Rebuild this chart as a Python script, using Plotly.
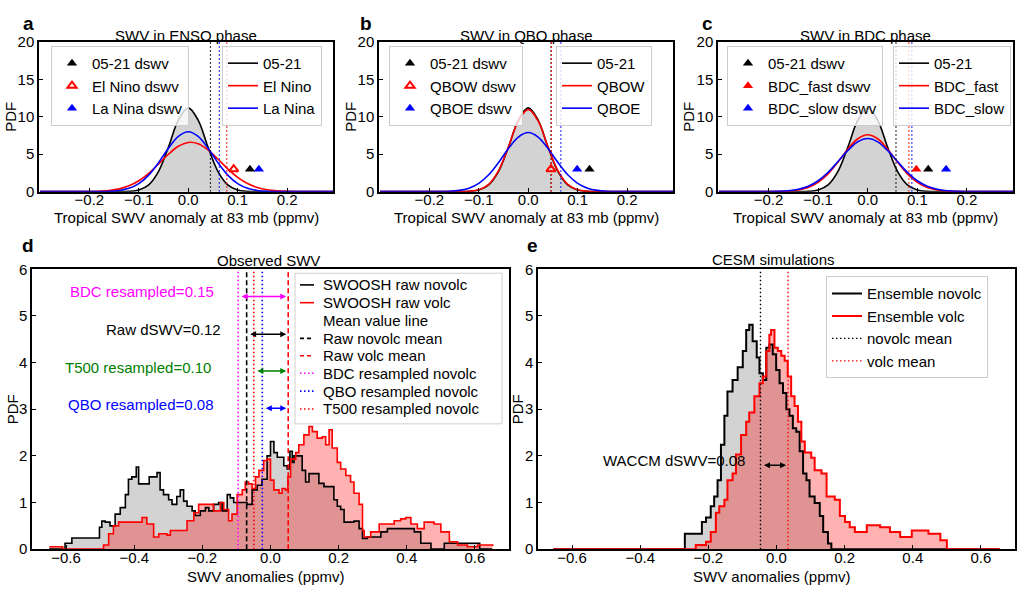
import plotly.graph_objects as go

W, H = 1020, 596
FONT = "Liberation Sans, Arial, Helvetica, sans-serif"


def PX(x):
    return x / W


def PY(y):
    return 1 - y / H


# ---------------- data: panels a-c (fitted PDFs) ----------------
pdf_x = [-0.30, -0.28, -0.26, -0.24, -0.22, -0.20, -0.18, -0.16, -0.14, -0.12, -0.10,
         -0.08, -0.06, -0.04, -0.02, 0.00, 0.02, 0.04, 0.06, 0.08, 0.10, 0.12, 0.14,
         0.16, 0.18, 0.20, 0.22, 0.24, 0.26, 0.28, 0.30]
pdf_0521 = [0, 0, 0, 0, 0, 0, 0, 0, 0.005, 0.038, 0.217, 0.90, 2.71, 5.96, 9.57, 11.2,
            9.57, 5.96, 2.71, 0.90, 0.217, 0.038, 0.005, 0, 0, 0, 0, 0, 0, 0, 0]
pdf_elnino = [0, 0, 0, 0.001, 0.006, 0.021, 0.061, 0.158, 0.370, 0.775, 1.457, 2.45, 3.70,
              5.00, 6.06, 6.58, 6.40, 5.58, 4.36, 3.05, 1.92, 1.08, 0.54, 0.245, 0.099,
              0.036, 0.012, 0.003, 0.001, 0, 0]
pdf_lanina = [0, 0, 0, 0, 0, 0.002, 0.012, 0.047, 0.156, 0.444, 1.07, 2.21, 3.88, 5.80, 7.38,
              8.0, 7.38, 5.80, 3.88, 2.21, 1.07, 0.444, 0.156, 0.047, 0.012, 0.002, 0, 0, 0, 0, 0]
pdf_qbow = [0, 0, 0, 0, 0, 0, 0, 0, 0.006, 0.047, 0.247, 0.97, 2.81, 5.99, 9.45, 11.0,
            9.45, 5.99, 2.81, 0.97, 0.247, 0.047, 0.006, 0, 0, 0, 0, 0, 0, 0, 0]
pdf_qboe = [0, 0, 0, 0, 0, 0.003, 0.014, 0.052, 0.169, 0.469, 1.11, 2.25, 3.90, 5.77, 7.30,
            7.9, 7.30, 5.77, 3.90, 2.25, 1.11, 0.469, 0.169, 0.052, 0.014, 0.003, 0, 0, 0, 0, 0]
pdf_bdcfast = [0, 0, 0, 0, 0.001, 0.005, 0.021, 0.073, 0.217, 0.558, 1.24, 2.38, 3.96, 5.69,
               7.07, 7.6, 7.07, 5.69, 3.96, 2.38, 1.24, 0.558, 0.217, 0.073, 0.021, 0.005,
               0.001, 0, 0, 0, 0]
pdf_bdcslow = [0, 0, 0, 0.001, 0.003, 0.013, 0.042, 0.123, 0.319, 0.726, 1.46, 2.58, 4.02,
               5.51, 6.66, 7.1, 6.66, 5.51, 4.02, 2.58, 1.46, 0.726, 0.319, 0.123, 0.042,
               0.013, 0.003, 0.001, 0, 0, 0]

# mean lines (dotted) and dswv markers: order = [05-21, phase1, phase2]
enso_means = [0.045, 0.078, 0.063]
enso_dswv = [0.125, 0.092, 0.143]
qbo_means = [0.046, 0.047, 0.066]
qbo_dswv = [0.124, 0.046, 0.099]
bdc_means = [0.057, 0.083, 0.089]
bdc_dswv = [0.122, 0.098, 0.158]
dswv_level = 3.0

# ---------------- data: panel d (observed SWV, step PDFs) ----------------
obs_novolc_x = [-0.650, -0.603, -0.583, -0.502, -0.495, -0.485, -0.471, -0.456, -0.441, -0.426,
                -0.417, -0.407, -0.394, -0.387, -0.356, -0.333, -0.324, -0.314, -0.299, -0.289,
                -0.275, -0.265, -0.255, -0.245, -0.230, -0.221, -0.206, -0.191, -0.181, -0.167,
                -0.152, -0.142, -0.127, -0.118, -0.108, -0.069, -0.054, -0.039, -0.025, -0.010,
                0.000, 0.010, 0.020, 0.039, 0.049, 0.057, 0.064, 0.069, 0.093, 0.103,
                0.113, 0.142, 0.157, 0.186, 0.196, 0.206, 0.216, 0.245, 0.260, 0.270,
                0.284, 0.324, 0.343, 0.422, 0.441, 0.471, 0.510, 0.614, 0.650]
obs_novolc_y = [0, 0.125, 0.24, 0.47, 0.60, 0.58, 0.50, 0.75, 0.89, 1.17,
                1.50, 1.55, 1.76, 1.40, 1.55, 1.64, 1.27, 1.17, 1.06, 0.96,
                1.13, 1.27, 1.03, 0.92, 0.82, 0.72, 0.82, 0.89, 0.82, 0.96,
                1.00, 0.82, 1.17, 1.10, 1.00, 0.96, 1.27, 1.37, 1.50, 2.00,
                2.31, 2.07, 1.97, 1.79, 1.72, 2.10, 1.86, 2.00, 1.69, 1.44,
                1.62, 1.41, 1.34, 1.06, 0.92, 0.85, 0.58, 0.60, 0.44, 0.23,
                0.26, 0.37, 0.44, 0.37, 0.125, 0.0, 0.125, 0.0, 0.0]
obs_volc_x = [-0.649, -0.610, -0.490, -0.475, -0.461, -0.446, -0.377, -0.363, -0.343, -0.328,
              -0.304, -0.294, -0.245, -0.225, -0.211, -0.167, -0.147, -0.137, -0.123, -0.113,
              -0.098, -0.083, -0.074, -0.064, -0.054, -0.044, -0.034, -0.020, -0.010, 0.000,
              0.010, 0.025, 0.034, 0.044, 0.051, 0.059, 0.074, 0.083, 0.098, 0.113,
              0.123, 0.137, 0.152, 0.162, 0.172, 0.181, 0.196, 0.206, 0.221, 0.235,
              0.245, 0.260, 0.270, 0.275, 0.294, 0.319, 0.363, 0.382, 0.397, 0.412,
              0.431, 0.451, 0.480, 0.500, 0.525, 0.549, 0.578, 0.608, 0.652]
obs_volc_y = [0.05, 0.0, 0.09, 0.33, 0.50, 0.58, 0.68, 0.54, 0.26, 0.33,
              0.30, 0.40, 0.61, 0.78, 0.96, 0.82, 1.00, 0.85, 0.61, 0.75,
              1.17, 1.27, 1.44, 1.40, 1.30, 1.55, 1.69, 1.90, 1.93, 1.48,
              1.27, 1.20, 1.30, 1.27, 1.55, 1.93, 2.07, 2.24, 2.45, 2.63,
              2.52, 2.38, 2.41, 2.24, 2.56, 2.17, 1.86, 1.72, 1.58, 1.44,
              1.20, 0.96, 0.40, 0.26, 0.37, 0.54, 0.61, 0.65, 0.68, 0.54,
              0.44, 0.58, 0.54, 0.37, 0.16, 0.09, 0.05, 0.09, 0.07]
# mean lines: raw novolc, raw volc, BDC resampled, QBO resampled, T500 resampled
obs_means = [-0.070, 0.052, -0.095, -0.024, -0.049]
obs_labels = ["BDC resampled=0.15", "Raw dSWV=0.12", "T500 resampled=0.10", "QBO resampled=0.08"]
obs_label_y = [5.52, 4.70, 3.90, 3.10]
obs_label_right = [-0.159, -0.138, -0.168, -0.159]
obs_arrow_y = [5.42, 4.61, 3.82, 3.02]

# ---------------- data: panel e (CESM simulations) ----------------
cesm_novolc_x = [-0.655, -0.269, -0.219, -0.207, -0.193, -0.183, -0.173, -0.163, -0.153, -0.144,
                 -0.129, -0.114, -0.099, -0.089, -0.080, -0.070, -0.058, -0.050, -0.040, -0.030,
                 -0.021, -0.011, -0.001, 0.009, 0.019, 0.029, 0.038, 0.048, 0.058, 0.068,
                 0.078, 0.088, 0.097, 0.112, 0.127, 0.137, 0.151, 0.161, 0.655]
cesm_novolc_y = [0, 0.33, 0.58, 0.68, 0.92, 1.13, 1.48, 2.24, 2.86, 3.38,
                 3.63, 3.90, 4.25, 4.70, 4.81, 4.46, 4.11, 3.77, 3.63, 4.32,
                 4.39, 4.18, 3.84, 3.56, 3.35, 3.00, 2.86, 2.59, 2.52, 2.10,
                 1.62, 1.48, 1.13, 0.99, 0.71, 0.37, 0.12, 0, 0]
cesm_volc_x = [-0.655, -0.237, -0.207, -0.193, -0.178, -0.168, -0.153, -0.144, -0.129, -0.119,
               -0.104, -0.089, -0.080, -0.065, -0.050, -0.040, -0.030, -0.021, -0.016, -0.006,
               0.004, 0.014, 0.024, 0.033, 0.043, 0.053, 0.063, 0.073, 0.083, 0.102,
               0.112, 0.132, 0.147, 0.171, 0.186, 0.201, 0.215, 0.230, 0.265, 0.304,
               0.333, 0.363, 0.397, 0.446, 0.481, 0.500, 0.655]
cesm_volc_y = [0, 0.09, 0.16, 0.37, 0.78, 0.92, 1.06, 1.48, 1.62, 2.03,
               2.45, 2.73, 2.93, 3.28, 3.56, 3.70, 4.25, 4.60, 4.70, 4.32,
               4.25, 4.15, 4.04, 3.70, 3.28, 3.07, 2.73, 2.31, 2.07, 1.96,
               1.69, 1.62, 1.13, 1.06, 0.71, 0.58, 0.47, 0.37, 0.51, 0.47,
               0.37, 0.26, 0.40, 0.33, 0.19, 0, 0]
cesm_means = [-0.047, 0.034]
cesm_arrow_y = 1.80
cesm_label = "WACCM dSWV=0.08"

# ---------------- styles ----------------
GRAY = "rgb(211,211,211)"
PINK = "rgba(255,0,0,0.3)"
RED = "#ff0000"
BLUE = "#0000ff"
MAGENTA = "#ff00ff"
GREEN = "#008000"
DASH = "5px,3px"
DOT = "1.5px,2.5px"

fig = go.Figure()

# ---------- panels a-c ----------
panels_top = [
    dict(ax="", legL="legend", legR="legend2", curves=[("05-21", pdf_0521, "black"),
                                                     ("El Nino", pdf_elnino, RED),
                                                     ("La Nina", pdf_lanina, BLUE)],
         means=enso_means, dswv=enso_dswv, open1=True),
    dict(ax="2", legL="legend3", legR="legend4", curves=[("05-21", pdf_0521, "black"),
                                                       ("QBOW", pdf_qbow, RED),
                                                       ("QBOE", pdf_qboe, BLUE)],
         means=qbo_means, dswv=qbo_dswv, open1=True),
    dict(ax="3", legL="legend5", legR="legend6", curves=[("05-21", pdf_0521, "black"),
                                                       ("BDC_fast", pdf_bdcfast, RED),
                                                       ("BDC_slow", pdf_bdcslow, BLUE)],
         means=bdc_means, dswv=bdc_dswv, open1=False),
]

for p in panels_top:
    xa, ya = "x" + p["ax"], "y" + p["ax"]
    # gray fill under 05-21 curve
    fig.add_trace(go.Scatter(x=pdf_x, y=pdf_0521, mode="lines", fill="tozeroy",
                             fillcolor=GRAY, line=dict(width=0, shape="spline"),
                             xaxis=xa, yaxis=ya, showlegend=False, hoverinfo="skip"))
    for name, vals, col in p["curves"]:
        fig.add_trace(go.Scatter(x=pdf_x, y=vals, mode="lines", name=name,
                                 line=dict(color=col, width=1.6, shape="spline"),
                                 xaxis=xa, yaxis=ya, legend=p["legR"]))
    for (name, _, col), m in zip(p["curves"], p["means"]):
        fig.add_trace(go.Scatter(x=[m, m], y=[0, 20], mode="lines",
                                 line=dict(color=col, width=1.2, dash=DOT),
                                 xaxis=xa, yaxis=ya, showlegend=False, hoverinfo="skip"))
    for i, ((name, _, col), v) in enumerate(zip(p["curves"], p["dswv"])):
        mk = dict(color=col, size=9, symbol="triangle-up")
        if i == 1 and p["open1"]:
            mk = dict(color=col, size=8, symbol="triangle-up-open", line=dict(width=2, color=col))
        fig.add_trace(go.Scatter(x=[v], y=[dswv_level], mode="markers", marker=mk,
                                 name=name + " dswv", xaxis=xa, yaxis=ya, legend=p["legL"]))

# ---------- panel d ----------
fig.add_trace(go.Scatter(x=obs_novolc_x, y=obs_novolc_y, mode="lines", fill="tozeroy",
                         fillcolor=GRAY, line=dict(width=0, shape="hv"),
                         xaxis="x4", yaxis="y4", showlegend=False, hoverinfo="skip"))
fig.add_trace(go.Scatter(x=obs_volc_x, y=obs_volc_y, mode="lines", fill="tozeroy",
                         fillcolor=PINK, line=dict(width=0, shape="hv"),
                         xaxis="x4", yaxis="y4", showlegend=False, hoverinfo="skip"))
fig.add_trace(go.Scatter(x=obs_novolc_x, y=obs_novolc_y, mode="lines", name="SWOOSH raw novolc",
                         line=dict(color="black", width=1.6, shape="hv"),
                         xaxis="x4", yaxis="y4", showlegend=False))
fig.add_trace(go.Scatter(x=obs_volc_x, y=obs_volc_y, mode="lines", name="SWOOSH raw volc",
                         line=dict(color=RED, width=1.6, shape="hv"),
                         xaxis="x4", yaxis="y4", showlegend=False))
obs_mean_styles = [("black", DASH), (RED, DASH), (MAGENTA, DOT), (BLUE, DOT), (RED, DOT)]
for m, (col, dash) in zip(obs_means, obs_mean_styles):
    fig.add_trace(go.Scatter(x=[m, m], y=[0, 6], mode="lines",
                             line=dict(color=col, width=1.6, dash=dash),
                             xaxis="x4", yaxis="y4", showlegend=False, hoverinfo="skip"))

# ---------- panel e ----------
fig.add_trace(go.Scatter(x=cesm_novolc_x, y=cesm_novolc_y, mode="lines", fill="tozeroy",
                         fillcolor=GRAY, line=dict(width=0, shape="hv"),
                         xaxis="x5", yaxis="y5", showlegend=False, hoverinfo="skip"))
fig.add_trace(go.Scatter(x=cesm_volc_x, y=cesm_volc_y, mode="lines", fill="tozeroy",
                         fillcolor=PINK, line=dict(width=0, shape="hv"),
                         xaxis="x5", yaxis="y5", showlegend=False, hoverinfo="skip"))
fig.add_trace(go.Scatter(x=cesm_novolc_x, y=cesm_novolc_y, mode="lines", name="Ensemble novolc",
                         line=dict(color="black", width=2, shape="hv"),
                         xaxis="x5", yaxis="y5", legend="legend7"))
fig.add_trace(go.Scatter(x=cesm_volc_x, y=cesm_volc_y, mode="lines", name="Ensemble volc",
                         line=dict(color=RED, width=2, shape="hv"),
                         xaxis="x5", yaxis="y5", legend="legend7"))
for m, col, nm in zip(cesm_means, ["black", RED], ["novolc mean", "volc mean"]):
    fig.add_trace(go.Scatter(x=[m, m], y=[0, 6], mode="lines", name=nm,
                             line=dict(color=col, width=1.4, dash=DOT),
                             xaxis="x5", yaxis="y5", legend="legend7"))

# ---------- axes ----------
def axis(**kw):
    d = dict(showline=True, linecolor="black", linewidth=1.5, mirror=True, ticks="inside",
             ticklen=4, tickwidth=1.2, tickcolor="black", showgrid=False, zeroline=False,
             tickfont=dict(size=15, family=FONT, color="black"), fixedrange=True)
    d.update(kw)
    return d


top_y = [PY(188), PY(34)]
bot_y = [PY(556), PY(268)]
xr_top = [-0.302, 0.293]
tv_top = [-0.2, -0.1, 0.0, 0.1, 0.2]
tv_bot = [-0.6, -0.4, -0.2, 0.0, 0.2, 0.4, 0.6]
SO = -6

layout_axes = dict(
    xaxis=axis(domain=[PX(39), PX(333)], range=xr_top, tickvals=tv_top, tickformat=".1f",
               anchor="y", ticklabelstandoff=SO),
    yaxis=axis(domain=top_y, range=[0, 20], tickvals=[0, 5, 10, 15, 20], anchor="x"),
    xaxis2=axis(domain=[PX(379), PX(673)], range=xr_top, tickvals=tv_top, tickformat=".1f",
                anchor="y2", ticklabelstandoff=SO),
    yaxis2=axis(domain=top_y, range=[0, 20], tickvals=[0, 5, 10, 15, 20], anchor="x2"),
    xaxis3=axis(domain=[PX(718), PX(1013)], range=xr_top, tickvals=tv_top, tickformat=".1f",
                anchor="y3", ticklabelstandoff=SO),
    yaxis3=axis(domain=top_y, range=[0, 20], tickvals=[0, 5, 10, 15, 20], anchor="x3"),
    xaxis4=axis(domain=[PX(32), PX(509)], range=[-0.7, 0.7], tickvals=tv_bot, tickformat=".1f",
                anchor="y4", ticklabelstandoff=SO),
    yaxis4=axis(domain=bot_y, range=[0, 6], tickvals=[0, 1, 2, 3, 4, 5, 6], anchor="x4"),
    xaxis5=axis(domain=[PX(538), PX(1015)], range=[-0.7, 0.7], tickvals=tv_bot, tickformat=".1f",
                anchor="y5", ticklabelstandoff=SO),
    yaxis5=axis(domain=bot_y, range=[0, 6], tickvals=[0, 1, 2, 3, 4, 5, 6], anchor="x5"),
)

# ---------- legends ----------
def leg(x, y, xanchor="left"):
    return dict(x=x, y=y, xanchor=xanchor, yanchor="top", xref="paper", yref="paper",
                bgcolor="rgba(255,255,255,0.8)", bordercolor="#cccccc", borderwidth=1,
                font=dict(size=15, family=FONT, color="black"), traceorder="normal")


legends = dict(
    legend=leg(PX(51), PY(38)),
    legend2=leg(PX(322), PY(38), "right"),
    legend3=leg(PX(389), PY(38)),
    legend4=leg(PX(652), PY(38), "right"),
    legend5=leg(PX(727), PY(38)),
    legend6=leg(PX(1011), PY(38), "right"),
    legend7=leg(PX(826), PY(275)),
)

# ---------- annotations ----------
ann = []


def txt(x, y, s, size=15, bold=False, color="black", xanchor="center", yanchor="middle",
        xref="paper", yref="paper", angle=0):
    ann.append(dict(x=x, y=y, text=("<b>%s</b>" % s) if bold else s, showarrow=False,
                    xref=xref, yref=yref, xanchor=xanchor, yanchor=yanchor, textangle=angle,
                    font=dict(size=size, family=FONT, color=color)))


# panel letters
for s, x, y in [("a", 28, 15), ("b", 366, 15), ("c", 707, 15), ("d", 28, 243), ("e", 532, 243)]:
    txt(PX(x), PY(y), s, size=19, bold=True)
# titles
txt(PX(186), PY(27), "SWV in ENSO phase")
txt(PX(526), PY(27), "SWV in QBO phase")
txt(PX(865.5), PY(27), "SWV in BDC phase")
txt(PX(268), PY(259), "Observed SWV")
txt(PX(773), PY(258), "CESM simulations")
# axis titles
for cx in [186, 526, 865.5]:
    txt(PX(cx), PY(215), "Tropical SWV anomaly at 83 mb (ppmv)")
txt(PX(266), PY(584), "SWV anomalies (ppmv)")
txt(PX(772), PY(584), "SWV anomalies (ppmv)")
for x, y in [(11, 111), (351, 111), (689, 111), (12, 412), (517, 412)]:
    txt(PX(x), PY(y), "PDF", angle=-90)

# panel d labels and arrows
obs_arrow_cols = [MAGENTA, "black", GREEN, BLUE]
obs_arrow_start = [obs_means[2], obs_means[0], obs_means[4], obs_means[3]]
for lab, ly, lx, col in zip(obs_labels, obs_label_y, obs_label_right, obs_arrow_cols):
    txt(lx, ly, lab, color=col, xanchor="right", xref="x4", yref="y4")
for ay_, x0, col in zip(obs_arrow_y, obs_arrow_start, obs_arrow_cols):
    ann.append(dict(x=obs_means[1], y=ay_, ax=x0, ay=ay_, xref="x4", yref="y4", axref="x4",
                    ayref="y4", text="", showarrow=True, arrowhead=2, arrowside="end+start",
                    arrowsize=0.8, arrowwidth=1.5, arrowcolor=col, standoff=2, startstandoff=2))

# panel e label and arrow
txt(-0.087, 1.91, cesm_label, xanchor="right", xref="x5", yref="y5")
ann.append(dict(x=cesm_means[1], y=cesm_arrow_y, ax=cesm_means[0], ay=cesm_arrow_y, xref="x5",
                yref="y5", axref="x5", ayref="y5", text="", showarrow=True, arrowhead=2,
                arrowside="end+start", arrowsize=0.8, arrowwidth=1.5, arrowcolor="black",
                standoff=2, startstandoff=2))

# ---------- panel d legend (drawn by hand to match compact spacing) ----------
shapes = []
shapes.append(dict(type="rect", xref="paper", yref="paper", x0=PX(295), x1=PX(502),
                   y0=PY(427), y1=PY(272), line=dict(color="#d0d0d0", width=1),
                   fillcolor="rgba(255,255,255,0.8)", layer="above"))
d_legend = [("SWOOSH raw novolc", "black", "solid"), ("SWOOSH raw volc", RED, "solid"),
            ("Mean value line", None, None), ("Raw novolc mean", "black", "4px,3px"),
            ("Raw volc mean", RED, "4px,3px"), ("BDC resampled novolc", MAGENTA, DOT),
            ("QBO resampled novolc", BLUE, DOT), ("T500 resampled novolc", RED, DOT)]
row_y = [284, 302.3, 320.7, 339, 357, 375, 393.3, 411.7]
for (lab, col, dash), ry in zip(d_legend, row_y):
    if col is not None:
        shapes.append(dict(type="line", xref="paper", yref="paper", x0=PX(300), x1=PX(314),
                           y0=PY(ry), y1=PY(ry), line=dict(color=col, width=1.6, dash=dash),
                           layer="above"))
    txt(PX(321), PY(ry), lab, xanchor="left")

fig.update_layout(
    width=W, height=H, margin=dict(l=0, r=0, t=0, b=0),
    paper_bgcolor="white", plot_bgcolor="white",
    font=dict(family=FONT, size=15, color="black"),
    annotations=ann, shapes=shapes, hovermode=False,
    **layout_axes, **legends,
)

fig.write_html("out.html")
